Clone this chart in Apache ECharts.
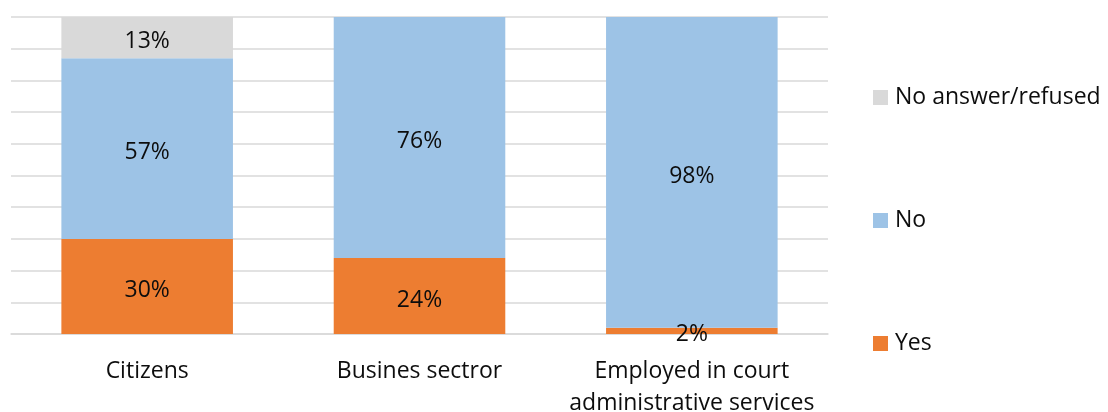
<!DOCTYPE html>
<html><head><meta charset="utf-8">
<script src="https://cdn.jsdelivr.net/npm/echarts@6/dist/echarts.min.js"></script>
<style>html,body{margin:0;padding:0;background:#fff}#c{width:1108px;height:412px}</style>
</head><body><div id="c"></div>
<script>
const categories = ['Citizens', 'Busines sectror', 'Employed in court\nadministrative services'];
const yesValues = [30, 24, 2];
const noValues = [57, 76, 98];
const naValues = [13, 0, 0];
const seriesNames = ['Yes', 'No', 'No answer/refused'];
const colors = ['#ED7D31', '#9DC3E6', '#D9D9D9'];

const FONT = 'Open Sans';
const FS = 23;
const chart = echarts.init(document.getElementById('c'));
const lbl = {
  show: true, position: 'inside', offset: [0, 4], color: '#0d0d0d', fontSize: FS, fontFamily: FONT,
  formatter: p => p.value > 0 ? p.value + '%' : ''
};
chart.setOption({
  animation: false,
  textStyle: { fontFamily: FONT },
  grid: { left: 11, right: 280, top: 17, bottom: 78, containLabel: false, outerBoundsMode: 'none' },
  legend: {
    orient: 'vertical', left: 873, top: 86, itemWidth: 15, itemHeight: 15, itemGap: 100,
    icon: 'rect', padding: 0,
    data: [seriesNames[2], seriesNames[1], seriesNames[0]],
    textStyle: { fontSize: FS, color: '#0d0d0d', fontFamily: FONT, padding: [0, 0, 0, 2] }
  },
  xAxis: {
    type: 'category', data: categories,
    axisLine: { show: true, lineStyle: { color: '#d9d9d9', width: 1.5 } },
    axisTick: { show: false },
    axisLabel: { fontSize: FS, color: '#0d0d0d', fontFamily: FONT, margin: 21, lineHeight: 32, interval: 0 }
  },
  yAxis: {
    type: 'value', min: 0, max: 100, interval: 10,
    axisLabel: { show: false }, axisLine: { show: false }, axisTick: { show: false },
    splitLine: { lineStyle: { color: '#d9d9d9', width: 1.5 } }
  },
  series: [
    { name: seriesNames[0], type: 'bar', stack: 't', data: yesValues, barWidth: '63%', itemStyle: { color: colors[0] }, label: lbl },
    { name: seriesNames[1], type: 'bar', stack: 't', data: noValues, itemStyle: { color: colors[1] }, label: lbl },
    { name: seriesNames[2], type: 'bar', stack: 't', data: naValues, itemStyle: { color: colors[2] }, label: lbl }
  ]
});
</script></body></html>
